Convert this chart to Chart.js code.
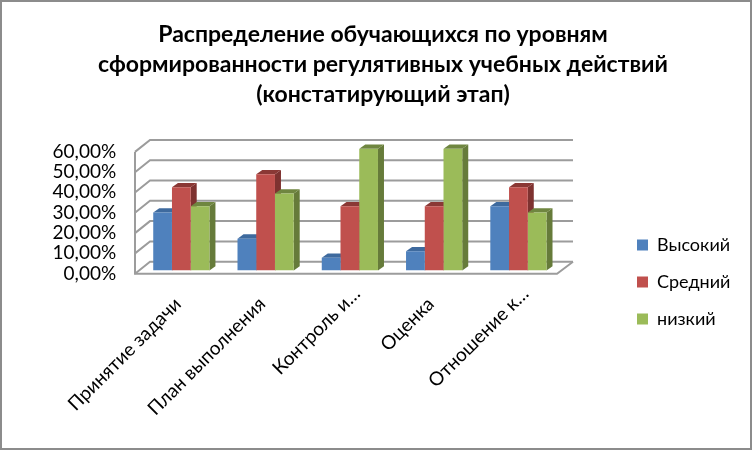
<!DOCTYPE html>
<html>
<head>
<meta charset="utf-8">
<style>
  html, body { margin: 0; padding: 0; background: #fff; }
  canvas { display: block; }
</style>
<script src="https://cdn.jsdelivr.net/npm/chart.js@4"></script>
</head>
<body>
<canvas id="chart" width="753" height="451"></canvas>
<script>
var categories = ['Принятие задачи', 'План выполнения', 'Контроль и…', 'Оценка', 'Отношение к…'];
var titleLines = ['Распределение обучающихся по уровням', 'сформированности регулятивных учебных действий', '(констатирующий этап)'];
var high = [28.6, 15.7, 6.3, 9.5, 31.6];
var middle = [41, 47.4, 31.6, 31.6, 41];
var low = [31.6, 37.9, 60, 60, 28.6];

// depth of the fake 3d box and of the bars
var wallDx = 15, wallDy = 12, frontDy = 3.2;
var barDx = 6, barDy = 4.3;
var sideColors = ['#3A6595', '#7E3230', '#667B3A'];
var topColors = ['#3E6A9E', '#8A3835', '#6F8640'];

function face(ctx, pts, color) {
  ctx.fillStyle = color;
  ctx.beginPath();
  pts.forEach(function (p, i) { i ? ctx.lineTo(p[0], p[1]) : ctx.moveTo(p[0], p[1]); });
  ctx.closePath();
  ctx.fill();
}

var box3d = {
  id: 'box3d',
  // the legend sits well away from the plot and the title is centred over the
  // whole page, so both get moved once layout is done
  afterLayout: function (chart) {
    chart.legend.left = 618;
    chart.legend.right = 753;
    chart.legend.top = 217;
    chart.legend.bottom = 451;
    chart.titleBlock.right = 753;
  },
  beforeDatasetsDraw: function (chart) {
    var ctx = chart.ctx, y = chart.scales.y;
    var left = 135, right = 557;
    ctx.save();

    // outer frame
    ctx.strokeStyle = '#8c8c8c';
    ctx.lineWidth = 2;
    ctx.strokeRect(1, 1, 750, 448);

    ctx.strokeStyle = '#9c9c9c';
    ctx.lineWidth = 2;
    y.ticks.forEach(function (t) {
      var py = y.getPixelForValue(t.value) + frontDy;
      ctx.beginPath();
      ctx.moveTo(left, py);
      ctx.lineTo(left + wallDx, py - wallDy);
      ctx.lineTo(right + wallDx + 1, py - wallDy);
      ctx.stroke();
    });
    var bottom = y.getPixelForValue(0) + frontDy;
    ctx.beginPath();
    ctx.moveTo(left, y.getPixelForValue(60) + frontDy);
    ctx.lineTo(left, bottom);
    ctx.lineTo(right, bottom);
    ctx.lineTo(right + wallDx + 1, bottom - wallDy);
    ctx.stroke();

    // sides and tops go under the fronts, so a later bar hides the one before it
    chart.data.datasets.forEach(function (ds, d) {
      chart.getDatasetMeta(d).data.forEach(function (bar) {
        var l = bar.x - bar.width / 2, r = bar.x + bar.width / 2;
        face(ctx, [[r, bar.y], [r + barDx, bar.y - barDy], [r + barDx, bar.base - barDy], [r, bar.base]], sideColors[d]);
        face(ctx, [[l, bar.y], [l + barDx, bar.y - barDy], [r + barDx, bar.y - barDy], [r, bar.y]], topColors[d]);
      });
    });
    ctx.restore();
  }
};

new Chart(document.getElementById('chart'), {
  type: 'bar',
  data: {
    labels: categories,
    datasets: [
      { label: 'Высокий', data: high, backgroundColor: '#4F81BD' },
      { label: 'Средний', data: middle, backgroundColor: '#C0504D' },
      { label: 'низкий', data: low, backgroundColor: '#9BBB59' }
    ]
  },
  options: {
    responsive: false,
    animation: false,
    devicePixelRatio: 1,
    layout: { padding: { left: 13, right: 70, top: 20, bottom: 0 } },
    datasets: { bar: { barPercentage: 1, categoryPercentage: 0.667 } },
    plugins: {
      title: {
        display: true,
        text: titleLines,
        color: '#000',
        font: { family: 'Lato', size: 23, weight: 'bold', lineHeight: 1.3 },
        padding: { top: 0, bottom: 39 }
      },
      legend: {
        position: 'right',
        align: 'start',
        labels: {
          color: '#000',
          font: { family: 'Lato', size: 18 },
          boxWidth: 11,
          boxHeight: 11,
          padding: 19
        }
      },
      tooltip: { enabled: false }
    },
    scales: {
      x: {
        grid: { display: false },
        border: { display: false },
        afterFit: function (s) { s.height = 180.5; },
        ticks: {
          color: '#000',
          font: { family: 'Lato', size: 19 },
          autoSkip: false,
          minRotation: 45,
          maxRotation: 45,
          padding: 4,
          labelOffset: 7,
          // the cut labels reach further along the slant than the full ones
          callback: function (v) {
            var text = this.getLabelForValue(v);
            return text.endsWith('…') ? text : text + '   ';
          }
        }
      },
      y: {
        min: 0,
        max: 60,
        grid: { display: false },
        border: { display: false },
        afterFit: function (s) { s.width = 126.2; },
        ticks: {
          color: '#000',
          font: { family: 'Lato', size: 19 },
          autoSkip: false,
          stepSize: 10,
          padding: 15,
          labelOffset: 3,
          callback: function (v) { return v.toFixed(2).replace('.', ',') + '%'; }
        }
      }
    }
  },
  plugins: [box3d]
});
</script>
</body>
</html>
